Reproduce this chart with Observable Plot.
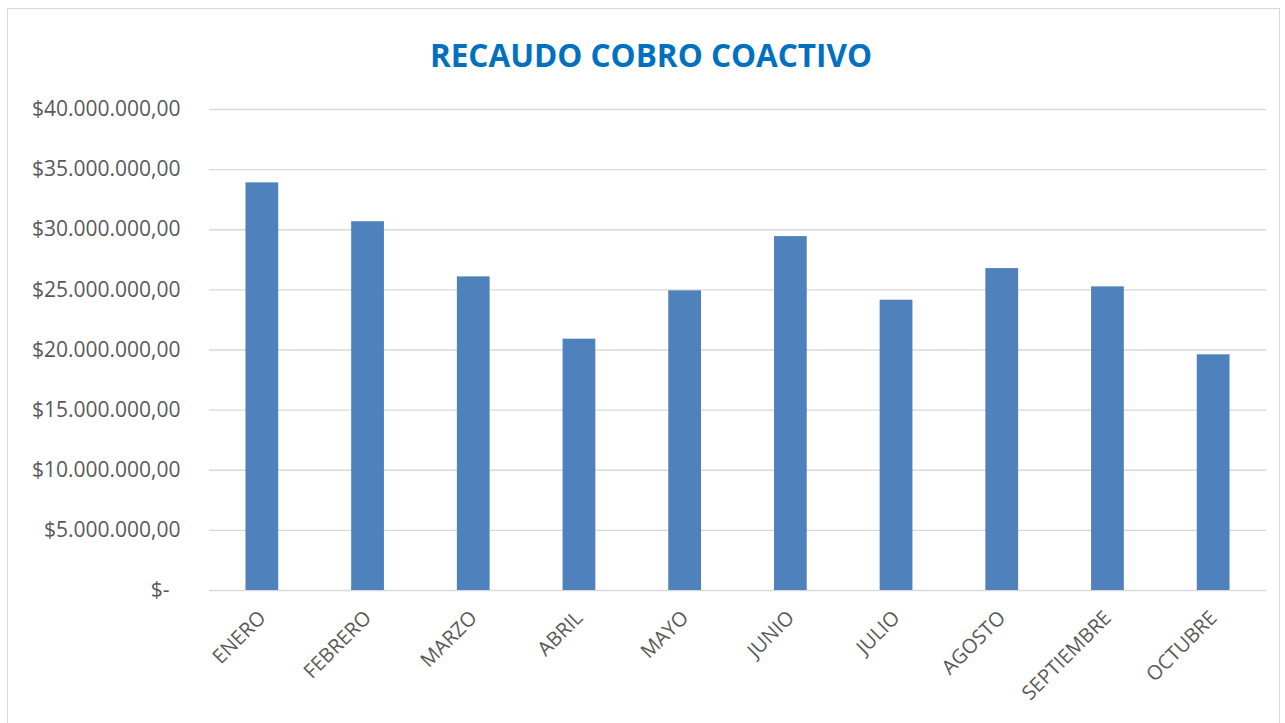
<!DOCTYPE html>
<html><head><meta charset="utf-8">
<script src="https://cdn.jsdelivr.net/npm/d3@7"></script>
<script src="https://cdn.jsdelivr.net/npm/@observablehq/plot@0.6"></script>
<style>
body{margin:0;background:#fff;}
#wrap{position:relative;width:1285px;height:723px;overflow:hidden;background:#fff}
#frame{position:absolute;left:7px;top:8px;width:1273px;height:740px;border:1px solid #d9d9d9;box-sizing:border-box}
#title{position:absolute;top:39px;left:651px;transform:translateX(-50%);font-family:"Open Sans";font-weight:bold;font-size:31.5px;color:#0070c0;line-height:1;white-space:nowrap}
#chart{position:absolute;left:0;top:0}
</style></head>
<body><div id="wrap"><div id="frame"></div><div id="title">RECAUDO COBRO COACTIVO</div><div id="chart"></div></div>
<script>
const months = ["ENERO","FEBRERO","MARZO","ABRIL","MAYO","JUNIO","JULIO","AGOSTO","SEPTIEMBRE","OCTUBRE"];
const values = [33900000,30670000,26080000,20900000,24920000,29430000,24140000,26770000,25250000,19600000];
const yTicks = [0,5000000,10000000,15000000,20000000,25000000,30000000,35000000,40000000];

const data = months.map((m,i)=>({mes:m, valor:values[i]}));
const loc = d3.formatLocale({decimal:",", thousands:".", grouping:[3], currency:["$",""]});
const fmt = loc.format("$,.2f");
const yFmt = v => v === 0 ? "$-\u00a0\u00a0" : fmt(v);

const chart = Plot.plot({
  width: 1285,
  height: 723,
  marginTop: 109,
  marginBottom: 133,
  marginLeft: 209,
  marginRight: 19,
  style: {fontFamily: "Open Sans", fontSize: "21px", color: "#595959", background: "transparent"},
  x: {domain: months, paddingInner: 0.69, paddingOuter: 0.345, round: false, label: null},
  y: {domain: [0, 40000000], label: null},
  marks: [
    Plot.gridY(yTicks, {stroke: "#d9d9d9", strokeOpacity: 1, strokeWidth: 1.4}),
    Plot.barY(data, {x: "mes", y: "valor", fill: "#4f81bd"}),
    Plot.axisY(yTicks, {tickSize: 0, tickPadding: 29, tickFormat: yFmt, fontSize: 21, fill: "#595959"}),
    Plot.axisX({tickSize: 0, tickRotate: -45, tickPadding: 24, fontSize: 20, fill: "#595959"})
  ]
});
document.getElementById("chart").appendChild(chart);
</script>
</body></html>
